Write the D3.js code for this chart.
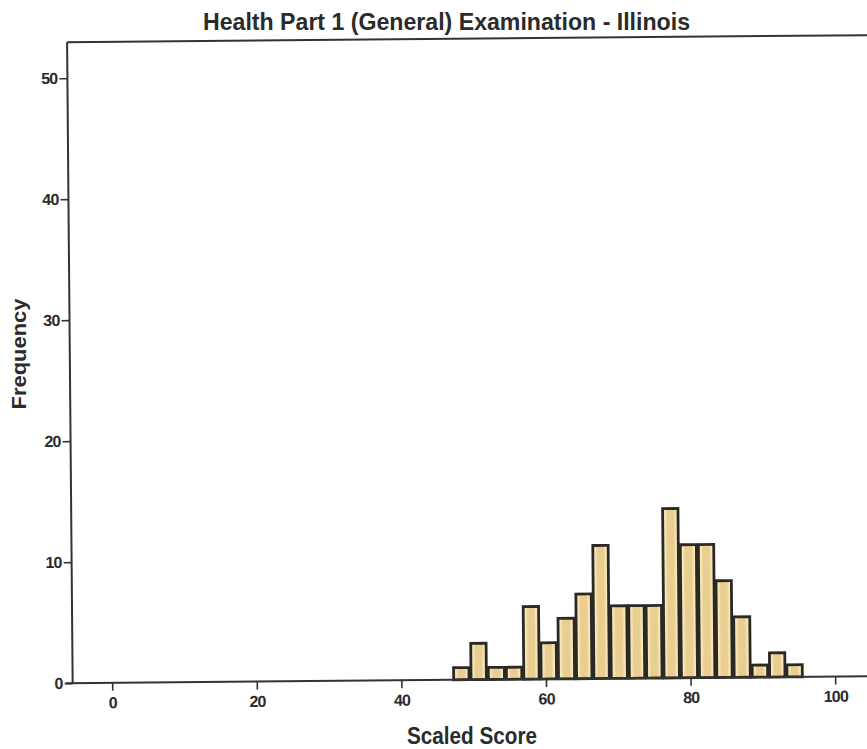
<!DOCTYPE html>
<html>
<head>
<meta charset="utf-8">
<script src="https://cdn.jsdelivr.net/npm/d3@7"></script>
<style>
  html, body { margin: 0; padding: 0; background: #ffffff; }
  svg { display: block; }
  text { font-family: "Liberation Sans", Arial, sans-serif; font-weight: bold; fill: #2b2b2b; }
</style>
</head>
<body>
<svg id="chart" width="867" height="749"></svg>
<script>
// ---- data ----
const title = "Health Part 1 (General) Examination - Illinois";
const xLabel = "Scaled Score";
const yLabel = "Frequency";
const binLow = [47.1, 49.5, 51.9, 54.4, 56.8, 59.2, 61.6, 64.1, 66.5, 68.9, 71.4, 73.8, 76.2, 78.6, 81.1, 83.5, 85.9, 88.4, 90.8, 93.2];
const binHigh = [49.5, 51.9, 54.4, 56.8, 59.2, 61.6, 64.1, 66.5, 68.9, 71.4, 73.8, 76.2, 78.6, 81.1, 83.5, 85.9, 88.4, 90.8, 93.2, 95.6];
const frequency = [1, 3, 1, 1, 6, 3, 5, 7, 11, 6, 6, 6, 14, 11, 11, 8, 5, 1, 2, 1];
const xTicks = [0, 20, 40, 60, 80, 100];
const yTicks = [0, 10, 20, 30, 40, 50];

// ---- layout ----
const W = 867, H = 749;
const svg = d3.select("#chart");

const x = d3.scaleLinear().domain([0, 100]).range([109.5, 832.5]);
const y = d3.scaleLinear().domain([0, 50]).range([680, 75]);
const axisX = 70, topY = 39;

const defs = svg.append("defs");
const grad = defs.append("linearGradient").attr("id", "barFill")
  .attr("x1", "0%").attr("x2", "100%").attr("y1", "0%").attr("y2", "0%");
[["0%", "#f8efca"], ["20%", "#f4e3ae"], ["30%", "#eacd90"], ["70%", "#eacd90"], ["80%", "#f4e3ae"], ["100%", "#f8efca"]]
  .forEach(([o, c]) => grad.append("stop").attr("offset", o).attr("stop-color", c));

// Title (not rotated)
svg.append("text")
  .attr("x", 446.5).attr("y", 30)
  .attr("text-anchor", "middle")
  .attr("textLength", 487)
  .attr("lengthAdjust", "spacingAndGlyphs")
  .style("font-size", "23px")
  .text(title);

// Rotated plot group (scanned page slightly tilted)
const g = svg.append("g").attr("transform", "rotate(-0.5, 433, 375)");

// frame top line
g.append("line")
  .attr("x1", axisX).attr("x2", W + 10)
  .attr("y1", topY).attr("y2", topY)
  .attr("stroke", "#333").attr("stroke-width", 2);

// bars
g.selectAll("rect.bar")
  .data(frequency)
  .join("rect")
  .attr("class", "bar")
  .attr("x", (d, i) => x(binLow[i]) + 1)
  .attr("width", (d, i) => x(binHigh[i]) - x(binLow[i]) - 2)
  .attr("y", d => y(d))
  .attr("height", d => y(0) - y(d))
  .attr("fill", "url(#barFill)")
  .attr("stroke", "#2c2824")
  .attr("stroke-width", 2.8);

// y axis
const yAxisG = g.append("g")
  .attr("transform", `translate(${axisX},0)`)
  .call(d3.axisLeft(y).tickValues(yTicks).tickSize(8).tickSizeOuter(0).tickPadding(2));
yAxisG.select(".domain").remove();
g.append("line")
  .attr("x1", axisX).attr("x2", axisX)
  .attr("y1", y(0)).attr("y2", topY)
  .attr("stroke", "#333").attr("stroke-width", 2);

// x axis
const xAxisG = g.append("g")
  .attr("transform", `translate(0,${y(0)})`)
  .call(d3.axisBottom(x).tickValues(xTicks).tickSize(8).tickSizeOuter(0).tickPadding(6));
xAxisG.select(".domain").remove();
g.append("line")
  .attr("x1", axisX - 7).attr("x2", W + 10)
  .attr("y1", y(0)).attr("y2", y(0))
  .attr("stroke", "#333").attr("stroke-width", 2);

g.selectAll(".tick line").attr("stroke", "#333").attr("stroke-width", 1.6);
g.selectAll(".tick text")
  .style("font-family", "'Liberation Sans', Arial, sans-serif")
  .style("font-weight", "bold")
  .style("font-size", "16px")
  .style("letter-spacing", "-0.8px")
  .attr("fill", "#2b2b2b");

// axis titles
svg.append("text")
  .attr("x", 472).attr("y", 744)
  .attr("text-anchor", "middle")
  .attr("textLength", 130)
  .attr("lengthAdjust", "spacingAndGlyphs")
  .style("font-size", "23px")
  .text(xLabel);

svg.append("text")
  .attr("transform", "translate(26, 354) rotate(-90)")
  .attr("text-anchor", "middle")
  .attr("textLength", 111)
  .attr("lengthAdjust", "spacingAndGlyphs")
  .style("font-size", "21px")
  .text(yLabel);
</script>
</body>
</html>
